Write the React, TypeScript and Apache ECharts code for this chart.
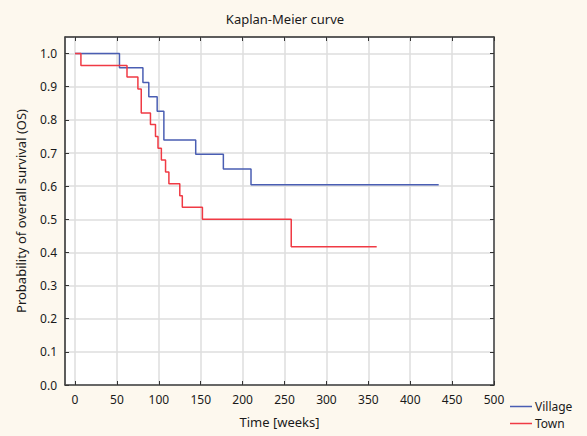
import React, { useEffect, useRef } from "react";
import * as echarts from "echarts";

const title = "Kaplan-Meier curve";
const xTitle = "Time [weeks]";
const yTitle = "Probability of overall survival (OS)";
const xTicks = [0, 50, 100, 150, 200, 250, 300, 350, 400, 450, 500];
const yTicks = [0, 0.1, 0.2, 0.3, 0.4, 0.5, 0.6, 0.7, 0.8, 0.9, 1.0];

// Kaplan-Meier steps: [time (weeks), survival probability]
const villageTimes = [0, 53, 81, 88, 98, 106, 144, 177, 210, 434];
const villageSurv = [1.0, 0.957, 0.913, 0.87, 0.826, 0.739, 0.696, 0.652, 0.604, 0.604];
const townTimes = [0, 7, 62, 75, 79, 90, 96, 99, 103, 108, 112, 125, 128, 152, 258, 360];
const townSurv = [1.0, 0.964, 0.929, 0.893, 0.821, 0.786, 0.75, 0.714, 0.679, 0.643, 0.607, 0.571, 0.536, 0.5, 0.417, 0.417];

const FONT = "Noto Sans";
const TXT = "#1a1a1a";

export default function App() {
  const ref = useRef<HTMLDivElement>(null);
  useEffect(() => {
    if (!ref.current) return;
    const chart = echarts.init(ref.current, null, { renderer: "svg" });
    const tickCommon = {
      show: true,
      inside: true,
      length: 4,
      lineStyle: { color: "#333", width: 1 },
    };
    const mkX = (pos: "bottom" | "top", main: boolean) => ({
      type: "value",
      position: pos,
      min: -12,
      max: 500,
      axisLine: { show: true, onZero: false, lineStyle: { color: "#444", width: 1.5 } },
      axisTick: { ...tickCommon, customValues: xTicks },
      axisLabel: {
        show: main,
        customValues: xTicks,
        margin: 8,
        color: TXT,
        fontFamily: FONT,
        fontSize: 12,
      },
      splitLine: main
        ? { show: true, lineStyle: { color: "#dedede", width: 1.5 } }
        : { show: false },
      name: main ? xTitle : "",
      nameLocation: "middle",
      nameGap: 30,
      nameTextStyle: { color: TXT, fontFamily: FONT, fontSize: 13 },
    });
    const mkY = (pos: "left" | "right", main: boolean) => ({
      type: "value",
      position: pos,
      min: 0,
      max: 1.05,
      axisLine: { show: true, onZero: false, lineStyle: { color: "#444", width: 1.5 } },
      axisTick: { ...tickCommon, customValues: yTicks },
      axisLabel: {
        show: main,
        customValues: yTicks,
        margin: 8,
        color: TXT,
        fontFamily: FONT,
        fontSize: 12,
        formatter: (v: number) => v.toFixed(1),
      },
      splitLine: main
        ? { show: true, lineStyle: { color: "#dedede", width: 1.5 } }
        : { show: false },
      name: main ? yTitle : "",
      nameLocation: "middle",
      nameGap: 38,
      nameTextStyle: { color: TXT, fontFamily: FONT, fontSize: 13 },
    });
    chart.setOption({
      animation: false,
      backgroundColor: "#fdf8ee",
      title: {
        text: title,
        left: 280,
        textAlign: "center",
        top: 7,
        textStyle: { color: TXT, fontFamily: FONT, fontSize: 13, fontWeight: "normal" },
      },
      grid: {
        left: 65,
        right: 93,
        top: 37,
        bottom: 51,
        show: true,
        backgroundColor: "#ffffff",
        borderColor: "#555",
        borderWidth: 1,
      },
      legend: {
        orient: "vertical",
        left: 510,
        top: 400,
        padding: 0,
        itemGap: 4,
        itemWidth: 22,
        itemHeight: 1.5,
        icon: "rect",
        textStyle: {
          color: TXT,
          fontFamily: FONT,
          fontSize: 12,
          lineHeight: 13,
          padding: [0, 0, 0, -2],
        },
        data: ["Village", "Town"],
      },
      xAxis: [mkX("bottom", true), mkX("top", false)],
      yAxis: [mkY("left", true), mkY("right", false)],
      series: [
        {
          name: "Village",
          type: "line",
          step: "end",
          xAxisIndex: 0,
          yAxisIndex: 0,
          symbol: "none",
          color: "#4a5eb3",
          lineStyle: { color: "#4a5eb3", width: 1.5 },
          data: villageTimes.map((t, i) => [t, villageSurv[i]]),
        },
        {
          name: "Town",
          type: "line",
          step: "end",
          xAxisIndex: 0,
          yAxisIndex: 0,
          symbol: "none",
          color: "#f03a44",
          lineStyle: { color: "#f03a44", width: 1.5 },
          data: townTimes.map((t, i) => [t, townSurv[i]]),
        },
      ],
    });
    return () => chart.dispose();
  }, []);
  return (
    <div
      ref={ref}
      style={{ position: "fixed", left: 0, top: 0, width: 587, height: 436 }}
    />
  );
}
